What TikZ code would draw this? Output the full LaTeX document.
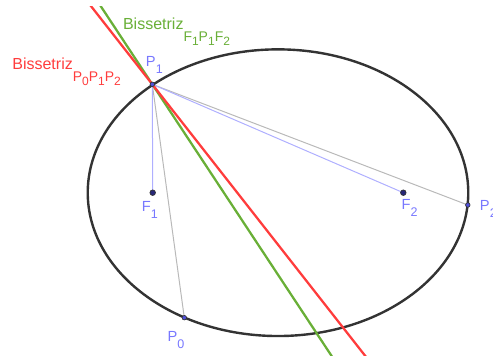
\documentclass[tikz,border=0pt]{standalone}
\usepackage{fontspec}
\setmainfont{Liberation Sans}
\usetikzlibrary{calc}
\definecolor{ptblue}{RGB}{120,120,255}
\definecolor{segblue}{RGB}{175,175,255}
\definecolor{seggray}{RGB}{185,185,185}
\definecolor{bisred}{RGB}{255,60,60}
\definecolor{bisgreen}{RGB}{105,175,55}
\definecolor{elgray}{RGB}{51,51,51}
\definecolor{ptfill}{RGB}{80,80,220}
\definecolor{focfill}{RGB}{40,40,120}
\newcommand\ptlab[2]{#1\raisebox{-5.25pt}{\fontsize{9.4}{10}\selectfont #2}}
\newcommand\bsub[2]{#1\raisebox{-2.6pt}{\fontsize{9}{9}\selectfont #2}}
\newcommand\bislab[1]{\fontsize{12}{14}\selectfont Bissetriz\raisebox{-9.3pt}{\fontsize{10.5}{12}\selectfont #1}}
\tikzset{
  lbl/.style={inner sep=0pt, anchor=base west, text=ptblue, font=\fontsize{11}{12}\selectfont},
  seg/.style={line width=0.75pt},
  bis/.style={line width=1.7pt},
  ptdot/.style={circle, inner sep=0pt, minimum size=3.4pt, draw=elgray, fill=ptfill, line width=0.5pt},
  focdot/.style={circle, inner sep=0pt, minimum size=4.2pt, draw=elgray, fill=focfill, line width=0.5pt}
}
\begin{document}
\begin{tikzpicture}[x=0.75pt,y=-0.75pt]
\useasboundingbox (0,0) rectangle (493,356);
\coordinate (C) at (278,192.7);
\coordinate (F1) at (152.7,192.7);
\coordinate (F2) at (403.3,192.7);
\coordinate (P1) at (152.3,84.3);
\coordinate (P0) at (184.3,317.7);
\coordinate (P2) at (467.8,205);
% ellipse
\draw[elgray, line width=1.8pt] (C) ellipse [x radius=142.7pt, y radius=107.5pt];
% segments
\draw[seg, seggray] (P1) -- (P0);
\draw[seg, seggray] (P1) -- (P2);
\draw[seg, segblue] (P1) -- (F1);
\draw[seg, segblue] (P1) -- (F2);
% bisectors
\coordinate (ga) at ($(P1)!50pt!(F1)$);
\coordinate (gb) at ($(P1)!50pt!(F2)$);
\coordinate (gm) at ($(ga)!0.5!(gb)$);
\coordinate (rm) at ($(P1)+(39.2,50)$);
\begin{scope}
\clip (0,6.7) rectangle (493,356);
\draw[bis, bisgreen] ($(P1)!-4!(gm)$) -- ($(P1)!10!(gm)$);
\draw[bis, bisred] ($(P1)!-3!(rm)$) -- ($(P1)!8!(rm)$);
\end{scope}
% points
\node[focdot] (nF1) at (F1) {};
\node[focdot] (nF2) at (F2) {};
\node[ptdot] (nP0) at (P0) {};
\node[ptdot] (nP1) at (P1) {};
\node[ptdot] (nP2) at (P2) {};
% labels
\node[lbl] (lP1) at (145.7,66.7) {\ptlab{P}{1}};
\node[lbl] (lF1) at (141.7,212) {\ptlab{F}{1}};
\node[lbl] (lF2) at (401.3,209.5) {\ptlab{F}{2}};
\node[lbl] (lP2) at (479.7,211) {\ptlab{P}{2}};
\node[lbl] (lP0) at (167.3,341.7) {\ptlab{P}{0}};
\node[lbl, text=bisgreen] (lg) at (122.8,29.3) {\bislab{\bsub{F}{1}\bsub{P}{1}\bsub{F}{2}}};
\node[lbl, text=bisred] (lr) at (12.1,69.3) {\bislab{\bsub{P}{0}\bsub{P}{1}\bsub{P}{2}}};
\end{tikzpicture}
\end{document}
